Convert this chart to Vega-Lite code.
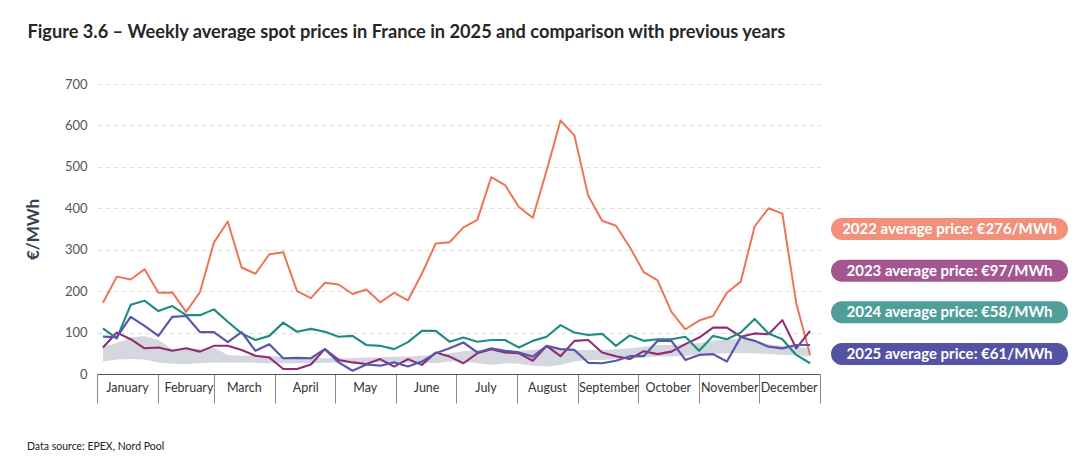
{
  "$schema": "https://vega.github.io/schema/vega-lite/v6.json",
  "background": "white",
  "padding": {"left": 24, "top": 22, "right": 0, "bottom": 0},
  "title": {"text": "Figure 3.6 – Weekly average spot prices in France in 2025 and comparison with previous years", "anchor": "start", "frame": "bounds", "font": "Lato", "fontSize": 18.2, "fontWeight": "bold", "color": "#262626", "offset": 36, "dx": 3},
  "config": {"view": {"stroke": null}, "font": "Lato"},
  "spacing": 10,
  "resolve": {"scale": {"color": "independent", "x": "independent", "y": "independent"}},
  "hconcat": [
    {
      "width": 723,
      "height": 290,
      "title": {"text": "Data source: EPEX, Nord Pool", "orient": "bottom", "anchor": "start", "frame": "group", "dx": -70, "offset": 38, "fontSize": 10.5, "fontWeight": "normal", "color": "#222222", "font": "Lato"},
      "data": {"values": [
        {"d": "2025-01-04", "2022": 172, "2023": 64, "2024": 110, "2025": 90, "lo": 30, "hi": 65},
        {"d": "2025-01-11", "2022": 235, "2023": 100, "2024": 86, "2025": 89, "lo": 35, "hi": 75},
        {"d": "2025-01-18", "2022": 228, "2023": 84, "2024": 167, "2025": 138, "lo": 36, "hi": 88},
        {"d": "2025-01-25", "2022": 253, "2023": 62, "2024": 177, "2025": 116, "lo": 35, "hi": 92},
        {"d": "2025-02-01", "2022": 196, "2023": 64, "2024": 152, "2025": 92, "lo": 28, "hi": 82},
        {"d": "2025-02-08", "2022": 197, "2023": 56, "2024": 164, "2025": 138, "lo": 25, "hi": 60},
        {"d": "2025-02-15", "2022": 150, "2023": 62, "2024": 142, "2025": 140, "lo": 24, "hi": 60},
        {"d": "2025-02-22", "2022": 198, "2023": 54, "2024": 142, "2025": 101, "lo": 26, "hi": 60},
        {"d": "2025-03-01", "2022": 317, "2023": 68, "2024": 156, "2025": 101, "lo": 28, "hi": 64},
        {"d": "2025-03-08", "2022": 368, "2023": 68, "2024": 126, "2025": 77, "lo": 28, "hi": 46},
        {"d": "2025-03-15", "2022": 257, "2023": 58, "2024": 98, "2025": 101, "lo": 28, "hi": 44},
        {"d": "2025-03-22", "2022": 242, "2023": 44, "2024": 82, "2025": 56, "lo": 27, "hi": 45},
        {"d": "2025-03-29", "2022": 289, "2023": 40, "2024": 92, "2025": 72, "lo": 26, "hi": 44},
        {"d": "2025-04-05", "2022": 294, "2023": 12, "2024": 124, "2025": 38, "lo": 26, "hi": 40},
        {"d": "2025-04-12", "2022": 200, "2023": 12, "2024": 102, "2025": 39, "lo": 26, "hi": 40},
        {"d": "2025-04-19", "2022": 183, "2023": 23, "2024": 109, "2025": 38, "lo": 26, "hi": 40},
        {"d": "2025-04-26", "2022": 220, "2023": 60, "2024": 102, "2025": 60, "lo": 27, "hi": 38},
        {"d": "2025-05-03", "2022": 216, "2023": 34, "2024": 90, "2025": 28, "lo": 27, "hi": 38},
        {"d": "2025-05-10", "2022": 193, "2023": 28, "2024": 92, "2025": 8, "lo": 28, "hi": 38},
        {"d": "2025-05-17", "2022": 204, "2023": 24, "2024": 70, "2025": 23, "lo": 28, "hi": 40},
        {"d": "2025-05-24", "2022": 173, "2023": 36, "2024": 68, "2025": 20, "lo": 28, "hi": 40},
        {"d": "2025-05-31", "2022": 196, "2023": 18, "2024": 60, "2025": 28, "lo": 27, "hi": 42},
        {"d": "2025-06-07", "2022": 178, "2023": 36, "2024": 77, "2025": 18, "lo": 27, "hi": 42},
        {"d": "2025-06-14", "2022": 242, "2023": 22, "2024": 104, "2025": 30, "lo": 27, "hi": 44},
        {"d": "2025-06-21", "2022": 315, "2023": 52, "2024": 104, "2025": 50, "lo": 26, "hi": 46},
        {"d": "2025-06-28", "2022": 318, "2023": 42, "2024": 78, "2025": 62, "lo": 30, "hi": 50},
        {"d": "2025-07-05", "2022": 354, "2023": 26, "2024": 88, "2025": 76, "lo": 30, "hi": 55},
        {"d": "2025-07-12", "2022": 372, "2023": 50, "2024": 78, "2025": 52, "lo": 26, "hi": 58},
        {"d": "2025-07-19", "2022": 475, "2023": 60, "2024": 82, "2025": 62, "lo": 22, "hi": 58},
        {"d": "2025-07-26", "2022": 456, "2023": 52, "2024": 82, "2025": 56, "lo": 26, "hi": 58},
        {"d": "2025-08-02", "2022": 403, "2023": 50, "2024": 64, "2025": 52, "lo": 25, "hi": 56},
        {"d": "2025-08-09", "2022": 377, "2023": 32, "2024": 80, "2025": 42, "lo": 20, "hi": 58},
        {"d": "2025-08-16", "2022": 491, "2023": 68, "2024": 90, "2025": 68, "lo": 18, "hi": 62},
        {"d": "2025-08-23", "2022": 612, "2023": 43, "2024": 118, "2025": 60, "lo": 22, "hi": 60},
        {"d": "2025-08-30", "2022": 576, "2023": 80, "2024": 100, "2025": 58, "lo": 30, "hi": 58},
        {"d": "2025-09-06", "2022": 430, "2023": 82, "2024": 94, "2025": 27, "lo": 34, "hi": 58},
        {"d": "2025-09-13", "2022": 370, "2023": 52, "2024": 97, "2025": 26, "lo": 34, "hi": 58},
        {"d": "2025-09-20", "2022": 358, "2023": 43, "2024": 68, "2025": 32, "lo": 36, "hi": 60},
        {"d": "2025-09-27", "2022": 306, "2023": 36, "2024": 93, "2025": 43, "lo": 38, "hi": 62},
        {"d": "2025-10-04", "2022": 246, "2023": 55, "2024": 80, "2025": 43, "lo": 40, "hi": 66},
        {"d": "2025-10-11", "2022": 226, "2023": 48, "2024": 84, "2025": 80, "lo": 42, "hi": 70},
        {"d": "2025-10-18", "2022": 150, "2023": 54, "2024": 84, "2025": 80, "lo": 42, "hi": 70},
        {"d": "2025-10-25", "2022": 108, "2023": 72, "2024": 90, "2025": 34, "lo": 44, "hi": 72},
        {"d": "2025-11-01", "2022": 129, "2023": 88, "2024": 56, "2025": 46, "lo": 46, "hi": 74},
        {"d": "2025-11-08", "2022": 140, "2023": 112, "2024": 92, "2025": 48, "lo": 48, "hi": 80},
        {"d": "2025-11-15", "2022": 196, "2023": 112, "2024": 84, "2025": 30, "lo": 50, "hi": 84},
        {"d": "2025-11-22", "2022": 223, "2023": 90, "2024": 100, "2025": 89, "lo": 50, "hi": 84},
        {"d": "2025-11-29", "2022": 356, "2023": 98, "2024": 133, "2025": 80, "lo": 50, "hi": 80},
        {"d": "2025-12-06", "2022": 400, "2023": 96, "2024": 98, "2025": 66, "lo": 48, "hi": 72},
        {"d": "2025-12-13", "2022": 387, "2023": 130, "2024": 84, "2025": 62, "lo": 46, "hi": 68},
        {"d": "2025-12-20", "2022": 171, "2023": 62, "2024": 46, "2025": 70, "lo": 45, "hi": 66},
        {"d": "2025-12-27", "2022": 46, "2023": 104, "2024": 26, "2025": 70, "lo": 42, "hi": 62}
      ]},
      "layer": [
        {
          "mark": {"type": "area", "color": "#d4d7dd"},
          "encoding": {
            "x": {
              "field": "d", "type": "temporal",
              "scale": {"type": "utc", "domain": [{"year": 2025, "month": 1, "date": 1, "utc": true}, {"year": 2026, "month": 1, "date": 1, "utc": true}]},
              "axis": {
                "title": null,
                "grid": false,
                "values": [
                  {"year": 2025, "month": 1, "date": 1, "utc": true},
                  {"year": 2025, "month": 2, "date": 1, "utc": true},
                  {"year": 2025, "month": 3, "date": 1, "utc": true},
                  {"year": 2025, "month": 4, "date": 1, "utc": true},
                  {"year": 2025, "month": 5, "date": 1, "utc": true},
                  {"year": 2025, "month": 6, "date": 1, "utc": true},
                  {"year": 2025, "month": 7, "date": 1, "utc": true},
                  {"year": 2025, "month": 8, "date": 1, "utc": true},
                  {"year": 2025, "month": 9, "date": 1, "utc": true},
                  {"year": 2025, "month": 10, "date": 1, "utc": true},
                  {"year": 2025, "month": 11, "date": 1, "utc": true},
                  {"year": 2025, "month": 12, "date": 1, "utc": true},
                  {"year": 2026, "month": 1, "date": 1, "utc": true}
                ],
                "labelExpr": "utcyear(datum.value) > 2025 ? '' : utcFormat(datum.value, '%B')",
                "labelOffset": {"condition": {"test": "utcyear(datum.value) > 2025", "value": 0}, "value": 30},
                "labelAlign": "center",
                "labelOverlap": false,
                "labelBound": false,
                "labelFlush": false,
                "labelPadding": -22,
                "labelFontSize": 12.5,
                "labelColor": "#333333",
                "tickSize": 29,
                "tickColor": "#8a8a8a",
                "domainColor": "#555555"
              }
            },
            "y": {
              "field": "lo", "type": "quantitative",
              "scale": {"domain": [0, 700]},
              "axis": {
                "values": [0, 100, 200, 300, 400, 500, 600, 700],
                "title": "€/MWh",
                "titleFontSize": 17,
                "titleFontWeight": "bold",
                "titleColor": "#3b3f52",
                "titlePadding": 22,
                "labelColor": "#555555",
                "labelFontSize": 13,
                "labelPadding": 10,
                "ticks": false,
                "domain": false,
                "grid": true,
                "gridDash": [4, 4],
                "gridColor": "#d9d9d9"
              }
            },
            "y2": {"field": "hi"}
          }
        },
        {
          "transform": [{"fold": ["2022", "2023", "2024", "2025"], "as": ["year", "price"]}],
          "mark": {"type": "line", "strokeJoin": "round"},
          "encoding": {
            "x": {"field": "d", "type": "temporal"},
            "y": {"field": "price", "type": "quantitative"},
            "color": {"field": "year", "type": "nominal", "scale": {"domain": ["2022", "2023", "2024", "2025"], "range": ["#ee7458", "#8e2c76", "#1e8c82", "#5a56ab"]}, "legend": null},
            "strokeWidth": {"field": "year", "type": "ordinal", "scale": {"domain": ["2022", "2023", "2024", "2025"], "range": [2, 2.2, 2.2, 3.8]}, "legend": null}
          }
        }
      ]
    },
    {
      "width": 237,
      "height": 290,
      "data": {"values": [
        {"label": "2022 average price: €276/MWh", "series": "2022"},
        {"label": "2023 average price: €97/MWh", "series": "2023"},
        {"label": "2024 average price: €58/MWh", "series": "2024"},
        {"label": "2025 average price: €61/MWh", "series": "2025"}
      ]},
      "encoding": {
        "y": {"field": "label", "type": "nominal", "sort": null, "scale": {"range": [134, 281], "paddingInner": 0.472, "paddingOuter": 0}, "axis": null}
      },
      "layer": [
        {
          "mark": {"type": "bar", "cornerRadius": 11},
          "encoding": {
            "x": {"datum": 0, "type": "quantitative", "scale": {"domain": [0, 1]}, "axis": null},
            "x2": {"datum": 1},
            "color": {"field": "series", "type": "nominal", "scale": {"domain": ["2022", "2023", "2024", "2025"], "range": ["#f2917b", "#a35690", "#4f9e98", "#5352a3"]}, "legend": null}
          }
        },
        {
          "mark": {"type": "text", "color": "white", "fontWeight": "bold", "fontSize": 15, "align": "center", "baseline": "middle", "font": "Lato"},
          "encoding": {
            "x": {"datum": 0.5, "type": "quantitative"},
            "text": {"field": "label"}
          }
        }
      ]
    }
  ]
}
